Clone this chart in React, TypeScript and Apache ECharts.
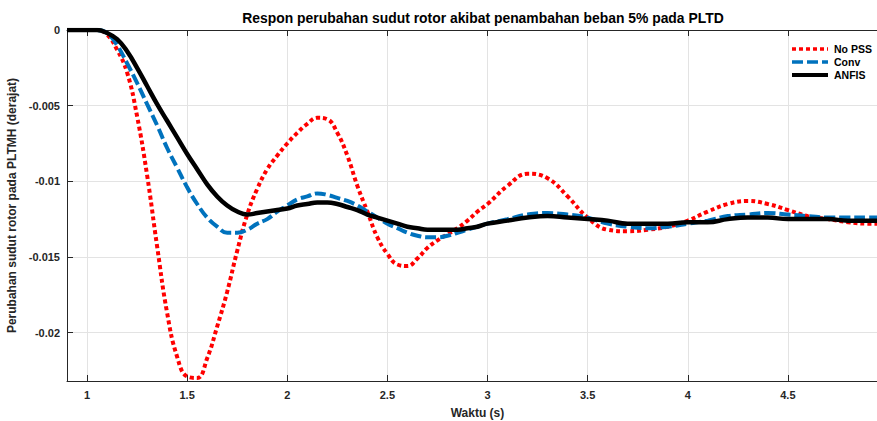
import React, { useEffect, useRef } from "react";
import * as echarts from "echarts";

const titleText = "Respon perubahan sudut rotor akibat penambahan beban 5% pada PLTD";
const xName = "Waktu (s)";
const yName = "Perubahan sudut rotor pada PLTMH (derajat)";
const seriesNames = ["No PSS", "Conv", "ANFIS"];
const seriesColors = ["#ff0000", "#0072bd", "#000000"];

const time = [
  0.9, 0.95, 1.0, 1.05, 1.1, 1.15, 1.2, 1.25, 1.3, 1.35, 1.4, 1.45, 1.5, 1.55, 1.6, 1.65, 1.7, 1.75, 1.8, 1.85,
  1.9, 1.95, 2.0, 2.05, 2.1, 2.15, 2.2, 2.25, 2.3, 2.35, 2.4, 2.45, 2.5, 2.55, 2.6, 2.65, 2.7, 2.75, 2.8, 2.85,
  2.9, 2.95, 3.0, 3.1, 3.2, 3.3, 3.4, 3.5, 3.6, 3.7, 3.8, 3.9, 4.0, 4.1, 4.2, 4.3, 4.4, 4.5, 4.6, 4.7,
  4.8, 4.9, 5.0,
];

const noPss = [
  0, 0, 0, 0, -0.0003, -0.0013, -0.0028, -0.0057, -0.0096, -0.0143, -0.0187, -0.0216, -0.0229, -0.023, -0.0217, -0.0196, -0.0173, -0.0146, -0.0122, -0.0105,
  -0.0092, -0.0083, -0.0075, -0.0068, -0.0062, -0.0058, -0.0059, -0.0068, -0.0083, -0.0103, -0.012, -0.0137, -0.0148, -0.0155, -0.0156, -0.0151, -0.0144, -0.0139, -0.0135, -0.0131,
  -0.0126, -0.012, -0.0115, -0.0103, -0.0095, -0.0098, -0.011, -0.0124, -0.0132, -0.0133, -0.0132, -0.013, -0.0126, -0.012, -0.0115, -0.0113, -0.0115, -0.0119, -0.0123, -0.0125,
  -0.0127, -0.0128, -0.0128,
];

const conv = [
  0, 0, 0, 0, -0.0002, -0.001, -0.0022, -0.0035, -0.0049, -0.0063, -0.0078, -0.0091, -0.0104, -0.0115, -0.0124, -0.013, -0.0134, -0.0134, -0.0132, -0.0128,
  -0.0125, -0.012, -0.0116, -0.0112, -0.011, -0.0108, -0.0109, -0.0111, -0.0113, -0.0116, -0.012, -0.0124, -0.0128, -0.0131, -0.0134, -0.0136, -0.0137, -0.0137, -0.0136, -0.0134,
  -0.0132, -0.013, -0.0128, -0.0125, -0.0122, -0.0121, -0.0122, -0.0124, -0.0128, -0.013, -0.0131, -0.013, -0.0128, -0.0126, -0.0123, -0.0122, -0.0121, -0.0122, -0.0123, -0.0124,
  -0.0124, -0.0124, -0.0124,
];

const anfis = [
  0, 0, 0, 0, -0.0002, -0.0006, -0.0014, -0.0025, -0.0037, -0.0049, -0.006, -0.0071, -0.0082, -0.0092, -0.0102, -0.011, -0.0116, -0.012, -0.0122, -0.0121,
  -0.012, -0.0119, -0.0118, -0.0116, -0.0115, -0.0114, -0.0114, -0.0115, -0.0117, -0.0119, -0.0122, -0.0124, -0.0126, -0.0128, -0.013, -0.0131, -0.0132, -0.0132, -0.0132, -0.0132,
  -0.0131, -0.013, -0.0128, -0.0126, -0.0124, -0.0123, -0.0124, -0.0125, -0.0126, -0.0128, -0.0128, -0.0128, -0.0127, -0.0127, -0.0125, -0.0124, -0.0124, -0.0125, -0.0125, -0.0125,
  -0.0126, -0.0126, -0.0126,
];

const xTicks = [1, 1.5, 2, 2.5, 3, 3.5, 4, 4.5, 5];
const xTickLabels = [1, 1.5, 2, 2.5, 3, 3.5, 4, 4.5];
const yTicks = [0, -0.005, -0.01, -0.015, -0.02];

const FONT = "'Liberation Sans', Arial, sans-serif";
const TXT = "#262626";

export default function App() {
  const ref = useRef<HTMLDivElement>(null);
  useEffect(() => {
    if (!ref.current) return;
    const chart = echarts.init(ref.current, undefined, { renderer: "svg" });
    const pair = (ys: number[]) => time.map((t, i) => [t, ys[i]]);
    const axisLineStyle = { color: "#262626", width: 1 };
    const legendTop = 49;
    const legendGap = 13;
    const dashes = [[4, 3], [11, 4], null];
    const widths = [4, 4, 4.5];
    const legendGraphics: any[] = [];
    seriesNames.forEach((name, i) => {
      const y = legendTop + i * legendGap;
      legendGraphics.push({
        type: "line",
        shape: { x1: 792, y1: y, x2: 828, y2: y },
        style: { stroke: seriesColors[i], lineWidth: widths[i] - 0.5, lineDash: dashes[i] || undefined },
        z: 100,
      });
      legendGraphics.push({
        type: "text",
        x: 834,
        y,
        style: {
          text: name,
          fill: "#000",
          font: `bold 10.5px ${FONT}`,
          verticalAlign: "middle",
        },
        z: 100,
      });
    });
    chart.setOption({
      animation: false,
      backgroundColor: "#ffffff",
      textStyle: { fontFamily: FONT },
      title: {
        text: titleText,
        left: 478,
        textAlign: "center",
        top: 6,
        textStyle: { fontFamily: FONT, fontSize: 13.9, fontWeight: "bold", color: "#000" },
      },
      graphic: legendGraphics,
      grid: { left: 67, top: 30, width: 821, height: 351, containLabel: false, outerBoundsMode: "none" },
      xAxis: [
        {
          type: "value",
          min: 0.9,
          max: 5.0,
          name: xName,
          nameLocation: "middle",
          nameGap: 26,
          nameTextStyle: { fontFamily: FONT, fontSize: 12, fontWeight: "bold", color: TXT },
          axisLine: { show: true, onZero: false, lineStyle: axisLineStyle },
          axisTick: { show: true, inside: true, length: 6, customValues: xTicks, lineStyle: { color: "#262626" } },
          axisLabel: {
            fontFamily: FONT,
            fontSize: 11,
            fontWeight: "bold",
            color: TXT,
            margin: 8,
            customValues: xTickLabels,
            formatter: (v: number) => String(v),
          },
          splitLine: { show: true, lineStyle: { color: "#e3e3e3", width: 1 } },
        },
        {
          type: "value",
          position: "top",
          min: 0.9,
          max: 5.0,
          axisLine: { show: true, onZero: false, lineStyle: axisLineStyle },
          axisTick: { show: true, inside: true, length: 6, customValues: xTicks, lineStyle: { color: "#262626" } },
          axisLabel: { show: false },
          splitLine: { show: false },
        },
      ],
      yAxis: {
        type: "value",
        min: -0.0232,
        max: 0,
        name: yName,
        nameLocation: "middle",
        nameGap: 46,
        nameTextStyle: { fontFamily: FONT, fontSize: 12, fontWeight: "bold", color: TXT },
        axisLine: { show: true, onZero: false, lineStyle: axisLineStyle },
        axisTick: { show: true, inside: true, length: 6, customValues: yTicks, lineStyle: { color: "#262626" } },
        axisLabel: {
          fontFamily: FONT,
          fontSize: 11,
          fontWeight: "bold",
          color: TXT,
          margin: 7,
          customValues: yTicks,
          formatter: (v: number) => String(v),
        },
        splitLine: { show: true, lineStyle: { color: "#e3e3e3", width: 1 } },
      },
      series: [
        {
          name: seriesNames[0],
          type: "line",
          data: pair(noPss),
          smooth: 0.45,
          symbol: "none",
          lineStyle: { color: seriesColors[0], width: widths[0], type: dashes[0], cap: "butt" },
          z: 2,
        },
        {
          name: seriesNames[1],
          type: "line",
          data: pair(conv),
          smooth: 0.45,
          symbol: "none",
          lineStyle: { color: seriesColors[1], width: widths[1], type: dashes[1], cap: "butt" },
          z: 3,
        },
        {
          name: seriesNames[2],
          type: "line",
          data: pair(anfis),
          smooth: 0.45,
          symbol: "none",
          lineStyle: { color: seriesColors[2], width: widths[2] },
          z: 4,
        },
      ],
    });
    return () => chart.dispose();
  }, []);
  return <div ref={ref} style={{ width: 877, height: 421, position: "absolute", left: 0, top: 0 }} />;
}
